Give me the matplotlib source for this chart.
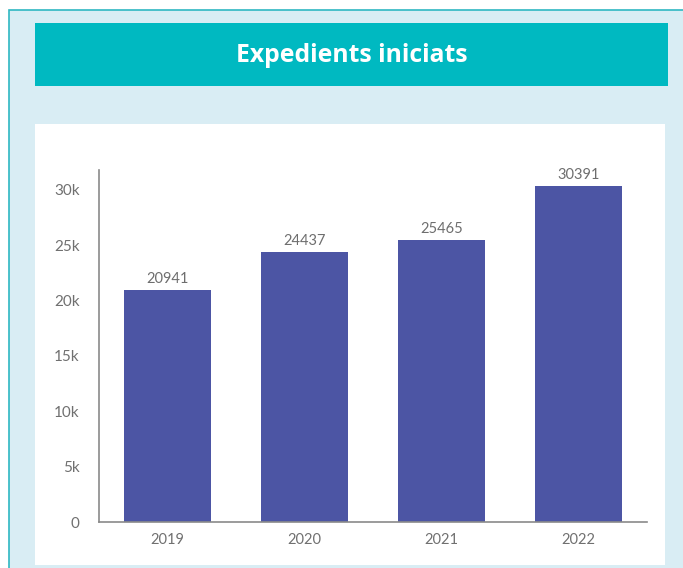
import matplotlib.pyplot as plt
from matplotlib.patches import Rectangle

years = ['2019', '2020', '2021', '2022']
values = [20941, 24437, 25465, 30391]
yticks = [0, 5000, 10000, 15000, 20000, 25000, 30000]
ytick_labels = ['0', '5k', '10k', '15k', '20k', '25k', '30k']

W, H = 683, 568
fig = plt.figure(figsize=(W / 100, H / 100), dpi=100)
fig.patch.set_facecolor('white')


def box(x0, y0, x1, y1, **kw):
    # pixel coords from top-left -> figure fraction
    r = Rectangle((x0 / W, 1 - y1 / H), (x1 - x0) / W, (y1 - y0) / H,
                  transform=fig.transFigure, zorder=-5, **kw)
    fig.patches.append(r)


# light blue frame with teal border
box(9, 10, 690, 580, facecolor='#d9edf4', edgecolor='#2fb8c2', linewidth=1.2)
# header
box(35, 23, 668, 86, facecolor='#00b9c1', edgecolor='none')
fig.text((35 + 668) / 2 / W, 1 - 56 / H, 'Expedients iniciats', color='white',
         fontsize=17.8, fontweight='bold', family='Open Sans',
         ha='center', va='center')
# white panel
box(35, 124, 665, 565, facecolor='white', edgecolor='none')

ax = fig.add_axes([99 / W, 1 - 522 / H, 548 / W, 352 / H])
ax.set_facecolor('none')
x = range(len(years))
ax.bar(x, values, width=0.64, color='#4c55a4')
for i, v in enumerate(values):
    ax.text(i, v + 350, str(v), ha='center', va='bottom', color='#6e6e6e',
            fontsize=10.5, family='Lato')

ax.set_xlim(-0.5, 3.5)
ax.set_ylim(0, 31800)
ax.set_xticks(list(x))
ax.set_xticklabels(years)
ax.set_yticks(yticks)
ax.set_yticklabels(ytick_labels)
for lab in ax.get_xticklabels() + ax.get_yticklabels():
    lab.set_family('Lato')
    lab.set_fontsize(10.5)
    lab.set_color('#707070')
for lab in ax.get_yticklabels():
    lab.set_fontsize(11)
ax.tick_params(axis='both', length=0)
ax.tick_params(axis='y', pad=14)
ax.tick_params(axis='x', pad=8)
for s in ['top', 'right']:
    ax.spines[s].set_visible(False)
for s in ['left', 'bottom']:
    ax.spines[s].set_color('#8a8a8a')
    ax.spines[s].set_linewidth(1.2)

fig.savefig('out.png', dpi=100)
